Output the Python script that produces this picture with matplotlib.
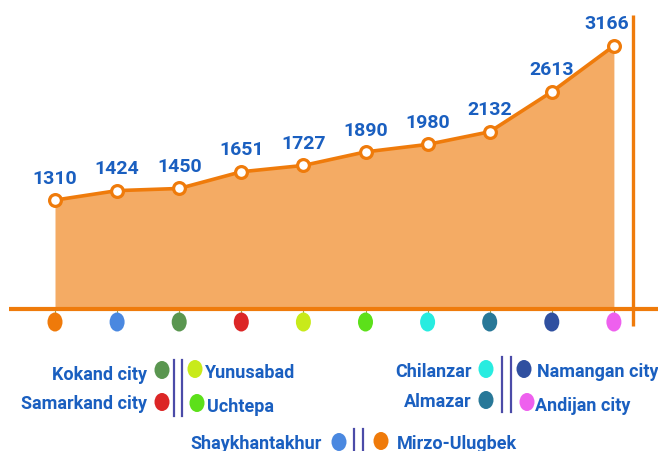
import matplotlib
matplotlib.use("Agg")
import matplotlib.pyplot as plt
from matplotlib.patches import Ellipse
from matplotlib.transforms import blended_transform_factory

# ---- data -------------------------------------------------------------
districts = ["Mirzo-Ulugbek", "Shaykhantakhur", "Kokand city", "Samarkand city",
             "Yunusabad", "Uchtepa", "Chilanzar", "Almazar",
             "Namangan city", "Andijan city"]
values = [1310, 1424, 1450, 1651, 1727, 1890, 1980, 2132, 2613, 3166]
dot_colors = ["#ef7a0a", "#4a88e0", "#5a9650", "#dc2626", "#c8ea1a",
              "#5ce01a", "#28ece0", "#287898", "#3050a0", "#ee60ee"]

ORANGE = "#ef7b0b"
FILL = "#f4ab64"
BLUE_TXT = "#1a5fc0"
SEP = "#4b4ba8"
FAMILY = ["Roboto", "DejaVu Sans"]

W, H = 658, 452
fig = plt.figure(figsize=(W / 100, H / 100), dpi=100)

# overlay in pixel coordinates for decorations and legend
ov = fig.add_axes([0, 0, 1, 1], zorder=3)
ov.set_xlim(0, W)
ov.set_ylim(H, 0)
ov.axis("off")
ov.patch.set_alpha(0)

# data axes: category index on x, value on y
ax = fig.add_axes([0, 0, 1, 1], zorder=2)
ax.patch.set_alpha(0)
x0_px, step_px = 55, 62.1
base_px, upp = 310, 12.03
ax.set_xlim(-x0_px / step_px, (W - x0_px) / step_px)
ax.set_ylim(-(H - base_px) * upp, base_px * upp)
ax.axis("off")

xs = list(range(len(values)))
ax.fill_between(xs, 0, values, color=FILL, lw=0, zorder=1)
ax.plot(xs, values, color=ORANGE, lw=2.6, zorder=3,
        marker="o", ms=8.5, mfc="white", mec=ORANGE, mew=2.3)
for x, v in zip(xs, values):
    # keep the last label clear of the right-hand rule
    dx = -5 if x == xs[-1] else 0
    ax.annotate(f"{v}", (x, v), xytext=(dx, 12.5), textcoords="offset points",
                ha="center", va="baseline", color=BLUE_TXT, fontsize=14,
                fontweight="bold", family=FAMILY, zorder=5)

# baseline and right-hand rule
ov.plot([9, W], [310, 310], color=ORANGE, lw=3, solid_capstyle="butt", zorder=2)
ov.plot([633, 633], [16, 327], color=ORANGE, lw=2.4, solid_capstyle="butt", zorder=2)

# coloured category markers under the axis
bt = blended_transform_factory(ax.transData, ov.transData)
for x, c in zip(xs, dot_colors):
    ax.add_line(plt.Line2D([x, x], [311, 315], color="#9aa84a", lw=0.8, transform=bt))
    ax.add_patch(Ellipse((x, 323), 15 / step_px, 19, color=c, transform=bt,
                         lw=0, zorder=4))

# legend
def dot(x, y, c, w=15, h=18):
    ov.add_patch(Ellipse((x, y), w, h, color=c, lw=0))

def label(x, y, s, ha):
    ov.text(x, y, s, ha=ha, va="baseline", color=BLUE_TXT, fontsize=13,
            fontweight="bold", family=FAMILY)

def seps(x, y1, y2):
    for dx in (0, 8.5):
        ov.plot([x + dx, x + dx], [y1, y2], color=SEP, lw=1.6)

cmap = dict(zip(districts, dot_colors))

label(147, 380, "Kokand city", "right");   dot(162, 371, cmap["Kokand city"])
label(147, 409, "Samarkand city", "right"); dot(162, 403, cmap["Samarkand city"])
seps(173.5, 361, 417)
dot(195, 370, cmap["Yunusabad"]);  label(205, 378, "Yunusabad", "left")
dot(197, 404, cmap["Uchtepa"]);    label(207, 412, "Uchtepa", "left")

label(472, 377, "Chilanzar", "right"); dot(486, 370, cmap["Chilanzar"])
label(472, 407, "Almazar", "right");   dot(486, 401, cmap["Almazar"])
seps(502, 358, 413)
dot(524, 370, cmap["Namangan city"]);  label(537, 377, "Namangan city", "left")
dot(527, 403, cmap["Andijan city"]);   label(535, 411, "Andijan city", "left")

label(322, 449, "Shaykhantakhur", "right"); dot(339, 443, cmap["Shaykhantakhur"])
seps(354, 430, 453)
dot(381, 442, cmap["Mirzo-Ulugbek"]); label(397, 449, "Mirzo-Ulugbek", "left")

fig.savefig("out.png", dpi=100)
